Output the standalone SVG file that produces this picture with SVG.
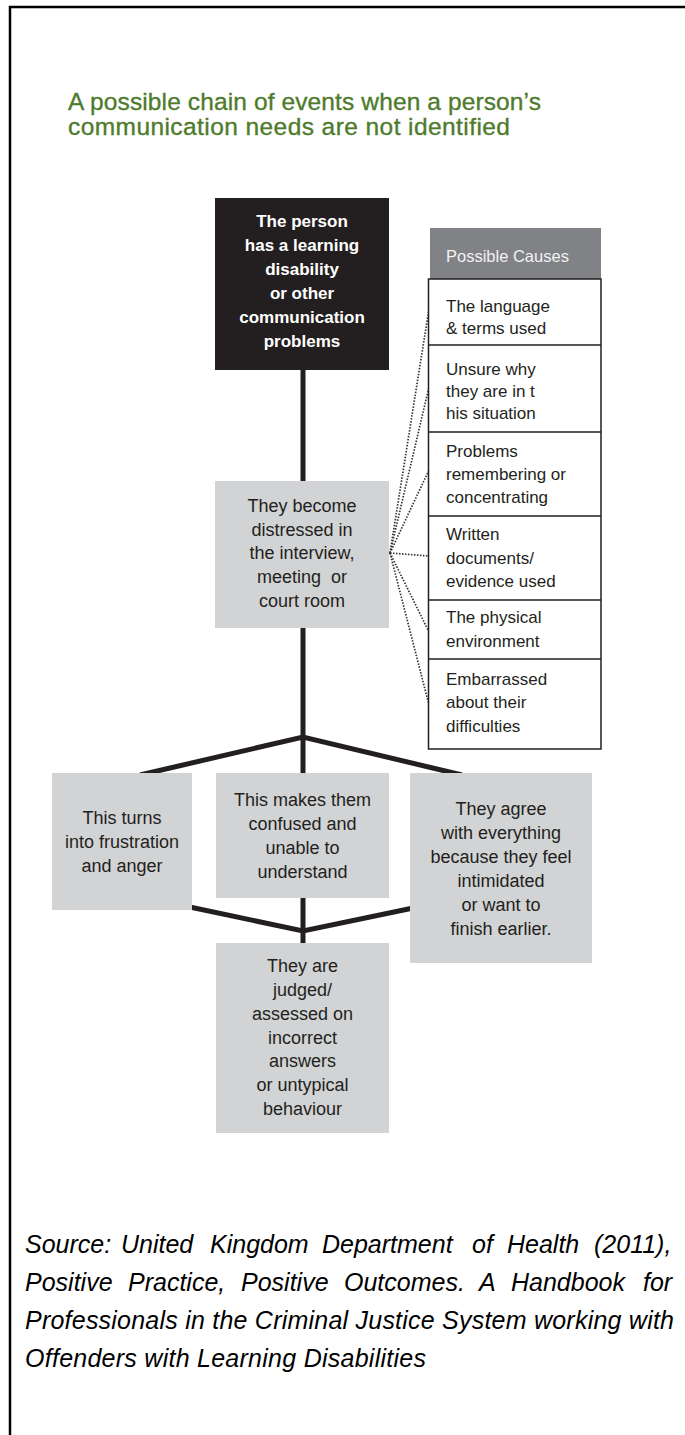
<svg xmlns="http://www.w3.org/2000/svg" width="685" height="1435" viewBox="0 0 685 1435">
<style>
.t{font-family:"Liberation Sans",Arial,sans-serif;fill:#231f20}
.box{fill:#d1d3d4}
.c{text-anchor:middle;font-size:18px}
.w{font-family:"Liberation Sans",Arial,sans-serif;fill:#ffffff;font-weight:bold;font-size:17px;text-anchor:middle}
.tab{font-size:17px}
.thick{stroke:#231f20;stroke-width:5;fill:none}
.dot{stroke:#333333;stroke-width:1.7;stroke-dasharray:1.5 1.5;fill:none}
.src{font-family:"Liberation Sans",Arial,sans-serif;font-style:italic;font-size:25px;fill:#000}
</style>
<rect width="685" height="1435" fill="#ffffff"/>
<path d="M685,7 H10 V1435" fill="none" stroke="#000" stroke-width="2.5"/>
<g id="title" font-family="Liberation Sans, Arial, sans-serif" font-size="24.5" fill="#4e7b2c" stroke="#4e7b2c" stroke-width="0.35">
<text x="68" y="110" textLength="473" lengthAdjust="spacing">A possible chain of events when a person’s</text>
<text x="68" y="135" textLength="442" lengthAdjust="spacing">communication needs are not identified</text>
</g>
<g id="connectors">
<line class="thick" x1="303" y1="370" x2="303" y2="481"/>
<line class="thick" x1="303" y1="628" x2="303" y2="775"/>
<polyline class="thick" points="140,775 303,737 462,775"/>
<polyline class="thick" points="185,906 303,931 418,907"/>
<line class="thick" x1="303" y1="898" x2="303" y2="943"/>
<g id="dotted">
<line class="dot" x1="390" y1="553" x2="429" y2="309"/>
<line class="dot" x1="390" y1="553" x2="429" y2="387"/>
<line class="dot" x1="390" y1="553" x2="429" y2="470"/>
<line class="dot" x1="390" y1="553" x2="429" y2="556"/>
<line class="dot" x1="390" y1="553" x2="429" y2="632"/>
<line class="dot" x1="390" y1="553" x2="429" y2="705"/>
</g>
</g>
<g id="n-person">
<rect x="215" y="198" width="174" height="172" fill="#231f20"/>
<text class="w" x="302" y="227">The person</text>
<text class="w" x="302" y="251">has a learning</text>
<text class="w" x="302" y="275">disability</text>
<text class="w" x="302" y="299">or other</text>
<text class="w" x="302" y="323">communication</text>
<text class="w" x="302" y="347">problems</text>
</g>
<g id="n-distressed">
<rect class="box" x="215" y="481" width="174" height="147"/>
<text class="t c" x="302" y="512">They become</text>
<text class="t c" x="302" y="536">distressed in</text>
<text class="t c" x="302" y="559">the interview,</text>
<text class="t c" x="302" y="583" style="white-space:pre">meeting  or</text>
<text class="t c" x="302" y="607">court room</text>
</g>
<g id="n-causes">
<rect x="430" y="228" width="171" height="51" fill="#808285"/>
<text x="446" y="262" font-family="Liberation Sans, Arial, sans-serif" font-size="16.5" fill="#f2f2f2">Possible Causes</text>
<rect x="428.5" y="279" width="172.5" height="470" fill="#ffffff" stroke="#231f20" stroke-width="1.5"/>
<path d="M428.5,345 H601 M428.5,432 H601 M428.5,516 H601 M428.5,600 H601 M428.5,659 H601" stroke="#231f20" stroke-width="1.5"/>
<g class="t tab">
<text x="446" y="312">The language</text>
<text x="446" y="334">&amp; terms used</text>
<text x="446" y="375">Unsure why</text>
<text x="446" y="397">they are in t</text>
<text x="446" y="419">his situation</text>
<text x="446" y="457">Problems</text>
<text x="446" y="480">remembering or</text>
<text x="446" y="503">concentrating</text>
<text x="446" y="540">Written</text>
<text x="446" y="564">documents/</text>
<text x="446" y="587">evidence used</text>
<text x="446" y="623">The physical</text>
<text x="446" y="647">environment</text>
<text x="446" y="685">Embarrassed</text>
<text x="446" y="708">about their</text>
<text x="446" y="732">difficulties</text>
</g>
</g>
<g id="n-frustration">
<rect class="box" x="52" y="773" width="140" height="137"/>
<text class="t c" x="122" y="824">This turns</text>
<text class="t c" x="122" y="848">into frustration</text>
<text class="t c" x="122" y="872">and anger</text>
</g>
<g id="n-confused">
<rect class="box" x="216" y="773" width="173" height="125"/>
<text class="t c" x="302.5" y="806">This makes them</text>
<text class="t c" x="302.5" y="830">confused and</text>
<text class="t c" x="302.5" y="854">unable to</text>
<text class="t c" x="302.5" y="878">understand</text>
</g>
<g id="n-agree">
<rect class="box" x="410" y="773" width="182" height="190"/>
<text class="t c" x="501" y="815">They agree</text>
<text class="t c" x="501" y="839">with everything</text>
<text class="t c" x="501" y="863">because they feel</text>
<text class="t c" x="501" y="887">intimidated</text>
<text class="t c" x="501" y="911">or want to</text>
<text class="t c" x="501" y="935">finish earlier.</text>
</g>
<g id="n-judged">
<rect class="box" x="216" y="943" width="173" height="190"/>
<text class="t c" x="302.5" y="972">They are</text>
<text class="t c" x="302.5" y="996">judged/</text>
<text class="t c" x="302.5" y="1020">assessed on</text>
<text class="t c" x="302.5" y="1044">incorrect</text>
<text class="t c" x="302.5" y="1067">answers</text>
<text class="t c" x="302.5" y="1091">or untypical</text>
<text class="t c" x="302.5" y="1115">behaviour</text>
</g>
<g id="source" class="src">
<text y="1253"><tspan x="25">Source:</tspan><tspan x="121">United</tspan><tspan x="210">Kingdom</tspan><tspan x="322">Department</tspan><tspan x="472">of</tspan><tspan x="507">Health</tspan><tspan x="594">(2011),</tspan></text>
<text y="1291"><tspan x="25">Positive</tspan><tspan x="128">Practice,</tspan><tspan x="241">Positive</tspan><tspan x="344">Outcomes.</tspan><tspan x="479">A</tspan><tspan x="511">Handbook</tspan><tspan x="643">for</tspan></text>
<text x="25" y="1329" textLength="649" lengthAdjust="spacing">Professionals in the Criminal Justice System working with</text>
<text x="25" y="1367" textLength="401" lengthAdjust="spacing">Offenders with Learning Disabilities</text>
</g>
</svg>
